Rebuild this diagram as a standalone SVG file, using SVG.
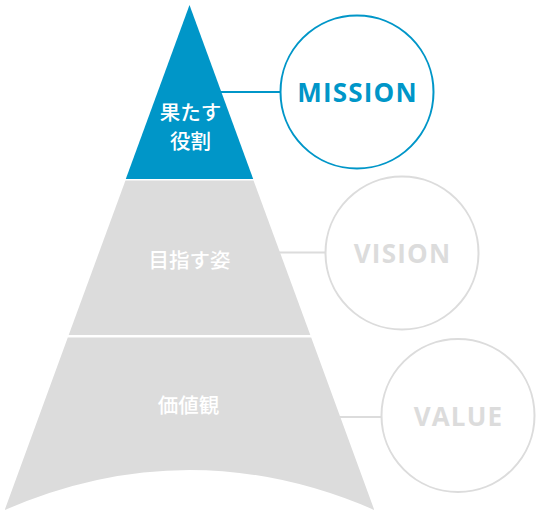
<svg xmlns="http://www.w3.org/2000/svg" width="539" height="515" viewBox="0 0 539 515">
<style>
.blue{fill:#0096c8}
.gray{fill:#dcdcdc}
.jp{font-family:"Noto Sans CJK JP","Noto Sans",sans-serif;font-weight:500;font-size:20.5px;fill:#fff;text-anchor:middle}
.en{font-family:"Open Sans","Noto Sans",sans-serif;font-weight:bold;font-size:26px;letter-spacing:1.2px;text-anchor:middle}
.ring{fill:#fff;stroke-width:2}
</style>
<g id="connectors" stroke-width="2" fill="none">
<line x1="215" y1="92" x2="281" y2="92" stroke="#0096c8"/>
<line x1="270" y1="252.5" x2="326" y2="252.5" stroke="#dcdcdc"/>
<line x1="330" y1="417" x2="383" y2="417" stroke="#dcdcdc"/>
</g>
<g id="mission-tier">
<polygon class="blue" points="189.5,5 253.2,179 125.8,179"/>
<text class="jp" x="190.5" y="120">果たす</text>
<text class="jp" x="190.5" y="149">役割</text>
</g>
<g id="vision-tier">
<polygon class="gray" points="125.45,180.5 253.55,180.5 310.3,335 68.7,335"/>
<text class="jp" x="189.5" y="268">目指す姿</text>
</g>
<g id="value-tier">
<path class="gray" d="M67.8,337.5 L311.2,337.5 L374.3,510 Q189.5,430 4.7,510 Z"/>
<text class="jp" x="188.5" y="413">価値観</text>
</g>
<g id="mission">
<circle class="ring" cx="357" cy="92" r="76.5" stroke="#0096c8"/>
<text class="en" x="357.5" y="102" fill="#0096c8">MISSION</text>
</g>
<g id="vision">
<circle class="ring" cx="402" cy="253" r="76.5" stroke="#dcdcdc"/>
<text class="en" x="402.5" y="263" fill="#dcdcdc">VISION</text>
</g>
<g id="value">
<circle class="ring" cx="458" cy="415.5" r="76.5" stroke="#dcdcdc"/>
<text class="en" x="458.5" y="426" fill="#dcdcdc">VALUE</text>
</g>
</svg>
